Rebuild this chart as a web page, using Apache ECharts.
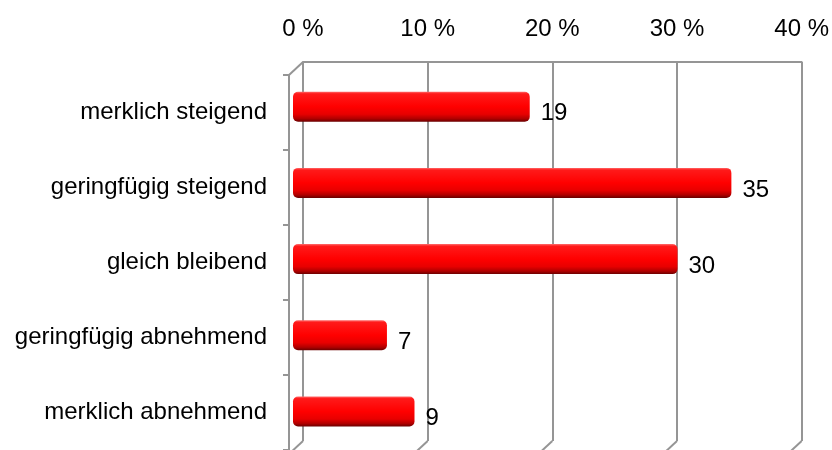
<!DOCTYPE html>
<html>
<head>
<meta charset="utf-8">
<script src="https://cdn.jsdelivr.net/npm/echarts@6/dist/echarts.min.js"></script>
<style>
html,body{margin:0;padding:0;background:#fff;}
#c{width:832px;height:450px;}
</style>
</head>
<body>
<div id="c"></div>
<script>
// ---- data ----
var categories = ['merklich steigend', 'geringfügig steigend', 'gleich bleibend', 'geringfügig abnehmend', 'merklich abnehmend'];
var values = [18.9, 35.0, 30.7, 7.5, 9.7];
var valueLabels = ['19', '35', '30', '7', '9'];
var axisMin = 0, axisMax = 40, axisStep = 10;

var FONT = 'Liberation Sans, Arial, sans-serif';
var GRAY = '#959595';

var chart = echarts.init(document.getElementById('c'), null, {renderer: 'canvas'});

var option = {
  animation: false,
  backgroundColor: '#fff',
  grid: [
    {left: 303, top: 62, width: 501, height: 379},   // back wall
    {left: 293, top: 68.6, width: 501, height: 381}, // bars (mid depth)
    {left: 289, top: 75, width: 501, height: 381}    // front plane (category axis)
  ],
  xAxis: [
    {
      gridIndex: 0, type: 'value', position: 'top',
      min: axisMin, max: axisMax, interval: axisStep,
      axisLine: {show: true, lineStyle: {color: GRAY, width: 2}},
      axisTick: {show: false},
      splitLine: {show: true, lineStyle: {color: GRAY, width: 2}},
      axisLabel: {formatter: '{value} %', fontFamily: FONT, fontSize: 24, color: '#000', margin: 21}
    },
    {gridIndex: 1, type: 'value', min: axisMin, max: axisMax, show: false},
    {gridIndex: 2, type: 'value', min: axisMin, max: axisMax, show: false}
  ],
  yAxis: [
    {gridIndex: 0, type: 'category', data: categories, inverse: true, show: false},
    {gridIndex: 1, type: 'category', data: categories, inverse: true, show: false},
    {
      gridIndex: 2, type: 'category', data: categories, inverse: true,
      axisLine: {show: true, lineStyle: {color: GRAY, width: 2}},
      axisTick: {show: true, length: 6, interval: 0, lineStyle: {color: GRAY, width: 2}},
      splitLine: {show: false},
      axisLabel: {fontFamily: FONT, fontSize: 24, color: '#000', margin: 22, padding: [4, 0, 0, 0]}
    }
  ],
  series: [
    {
      type: 'bar',
      xAxisIndex: 1, yAxisIndex: 1,
      data: values,
      barWidth: 30,
      itemStyle: {
        borderRadius: 5,
        color: new echarts.graphic.LinearGradient(0, 0, 0, 1, [
          {offset: 0, color: '#ff6a6a'},
          {offset: 0.07, color: '#ff1a1a'},
          {offset: 0.5, color: '#ff0000'},
          {offset: 0.75, color: '#e80000'},
          {offset: 0.9, color: '#b00000'},
          {offset: 1, color: '#6a0000'}
        ])
      },
      label: {
        show: true, position: 'right', distance: 11, offset: [0, 7],
        fontFamily: FONT, fontSize: 24, color: '#000',
        formatter: function (p) { return valueLabels[p.dataIndex]; }
      }
    }
  ]
};
chart.setOption(option);

// 3D frame edges (perspective diagonals) derived from the axes
var depthDX = 14, depthDY = 13;
var gBack = chart.getModel().getComponent('grid', 0).coordinateSystem.getRect();
var edges = [];
for (var t = axisMin; t <= axisMax; t += axisStep) {
  var x = chart.convertToPixel({xAxisIndex: 0}, t);
  var yb = gBack.y + gBack.height;
  edges.push({type: 'line', shape: {x1: x, y1: yb, x2: x - depthDX, y2: yb + depthDY},
    style: {stroke: GRAY, lineWidth: 2}, silent: true});
}
edges.push({type: 'line', shape: {x1: gBack.x, y1: gBack.y, x2: gBack.x - depthDX, y2: gBack.y + depthDY},
  style: {stroke: GRAY, lineWidth: 2}, silent: true});
chart.setOption({graphic: edges});
</script>
</body>
</html>
